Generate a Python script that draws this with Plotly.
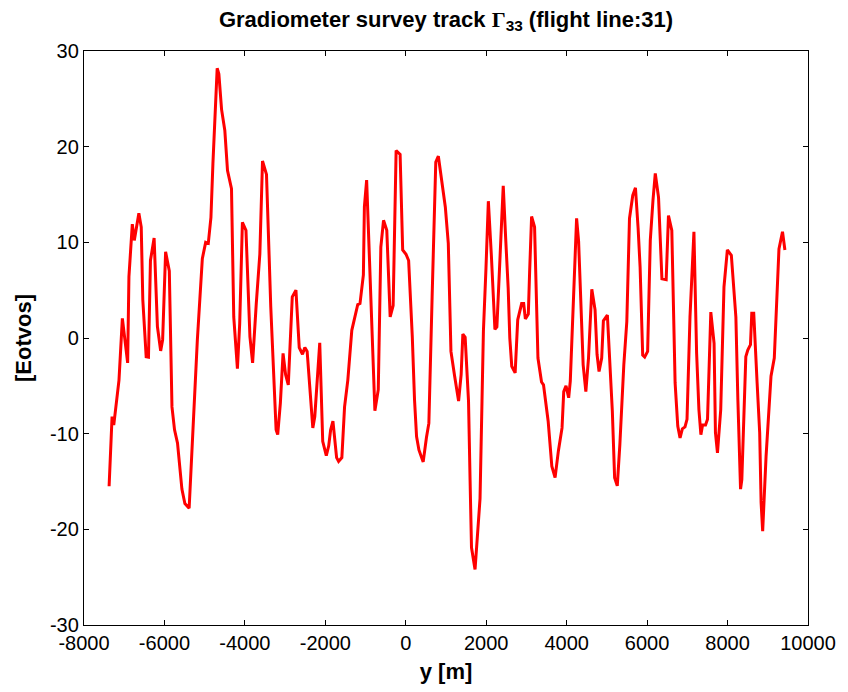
import plotly.graph_objects as go

# Flight-line position y [m]
y_pos = [
    -7376, -7302, -7260, -7130, -7046, -6982, -6915, -6883, -6799, -6750,
    -6636, -6577, -6538, -6454, -6397, -6348, -6257, -6175, -6094, -6045,
    -5971, -5879, -5813, -5749, -5675, -5566, -5492, -5386, -5305, -5182,
    -5058, -4975, -4910, -4844, -4795, -4689, -4647, -4580, -4499, -4432,
    -4333, -4277, -4186, -4129, -4062, -3973, -3875, -3808, -3717, -3628,
    -3562, -3463, -3357, -3283, -3224, -3184, -3118, -3051, -2987, -2921,
    -2822, -2731, -2649, -2568, -2509, -2452, -2371, -2311, -2262, -2139,
    -2065, -1976, -1917, -1868, -1811, -1720, -1670, -1589, -1522, -1441,
    -1342, -1251, -1194, -1138, -1054, -1029, -973, -881, -825, -768,
    -684, -620, -553, -472, -388, -314, -240, -141, -77, 6,
    71, 162, 218, 268, 327, 433, 514, 574, 655, 746,
    810, 901, 983, 1057, 1123, 1215, 1313, 1377, 1419, 1476,
    1560, 1599, 1634, 1722, 1782, 1846, 1895, 1930, 1994, 2053,
    2127, 2176, 2216, 2265, 2324, 2381, 2423, 2479, 2546, 2586,
    2635, 2719, 2783, 2881, 2931, 2973, 3047, 3079, 3128, 3202,
    3244, 3286, 3375, 3424, 3540, 3631, 3712, 3794, 3885, 3927,
    3984, 4050, 4090, 4149, 4198, 4247, 4297, 4361, 4410, 4477,
    4543, 4625, 4706, 4755, 4805, 4871, 4913, 5012, 5076, 5135,
    5192, 5258, 5323, 5421, 5495, 5562, 5643, 5710, 5776, 5826,
    5890, 5939, 6013, 6079, 6146, 6203, 6284, 6368, 6474, 6531,
    6614, 6696, 6762, 6819, 6876, 6942, 6992, 7066, 7164, 7231,
    7288, 7337, 7379, 7453, 7502, 7542, 7584, 7665, 7699, 7749,
    7830, 7911, 7995, 8094, 8151, 8207, 8257, 8323, 8355, 8405,
    8454, 8503, 8570, 8602, 8651, 8735, 8799, 8834, 8873, 8957,
    9021, 9080, 9162, 9228, 9278, 9366, 9426,
]

# Gamma_33 [Eotvos]
gamma33 = [
    -15.5, -8.2, -9.1, -4.4, 2.05, -0.2, -2.6, 6.4, 11.9, 10.2,
    13.05, 11.6, 4.0, -1.95, -2.0, 8.1, 10.45, 1.2, -1.35, -0.2,
    9.0, 7.0, -7.2, -9.6, -11.0, -15.8, -17.3, -17.8, -10.3, -0.2,
    8.3, 10.0, 9.9, 12.6, 18.2, 28.2, 27.6, 23.9, 21.7, 17.5,
    15.6, 2.2, -3.2, 1.5, 12.1, 11.25, 0.15, -2.6, 3.6, 8.8,
    18.5, 17.1, 3.3, -4.7, -9.6, -10.1, -6.8, -1.6, -3.85, -4.9,
    4.3, 5.0, -1.0, -1.7, -1.0, -1.4, -5.8, -9.4, -8.2, -0.5,
    -10.8, -12.3, -11.3, -9.6, -8.7, -12.5, -12.9, -12.5, -7.2, -4.4,
    0.8, 2.6, 3.5, 3.6, 6.6, 13.7, 16.5, 5.7, -1.25, -7.6,
    -5.4, 9.5, 12.3, 11.25, 2.2, 3.4, 19.6, 19.2, 9.2, 8.75,
    8.1, 0.15, -6.5, -10.3, -11.7, -12.95, -10.4, -8.9, 4.3, 18.4,
    19.0, 16.1, 13.7, 9.9, -1.4, -4.0, -6.6, -3.8, 0.4, 0.07,
    -6.6, -14.9, -21.9, -24.2, -20.7, -16.8, -6.6, 0.7, 7.3, 14.3,
    8.7, 3.8, 0.9, 1.15, 6.25, 12.8, 15.9, 10.8, 5.2, 0.0,
    -2.95, -3.65, 1.9, 3.6, 3.6, 2.0, 2.5, 6.9, 12.7, 11.6,
    4.5, -2.1, -4.6, -4.9, -8.7, -13.4, -14.6, -11.8, -9.4, -5.6,
    -5.0, -6.25, -4.5, 2.4, 8.3, 12.5, 10.1, 3.8, -2.8, -5.6,
    -2.1, 5.1, 2.95, -1.7, -3.5, -2.1, 1.8, 2.4, -3.5, -7.6,
    -14.6, -15.45, -11.1, -2.8, 1.7, 12.5, 14.9, 15.7, 11.5, 7.4,
    -1.8, -2.0, -1.4, 10.2, 14.4, 17.2, 14.7, 6.2, 6.1, 12.8,
    11.25, -4.7, -9.2, -10.45, -9.5, -9.3, -8.5, 2.2, 11.1, -1.6,
    -7.5, -10.1, -9.1, -9.1, -8.5, -3.0, 2.7, -0.55, -9.9, -12.0,
    -7.5, 5.35, 9.2, 8.65, 5.7, 2.2, -6.5, -15.8, -14.8, -8.9,
    -1.95, -1.25, -0.7, 2.6, 2.6, -4.7, -9.9, -17.2, -20.2, -12.4,
    -7.5, -4.0, -2.1, 3.6, 9.3, 11.1, 9.2,
]

x_ticks = [-8000, -6000, -4000, -2000, 0, 2000, 4000, 6000, 8000, 10000]
y_ticks = [-30, -20, -10, 0, 10, 20, 30]

FONT = "Arial, 'Liberation Sans', Helvetica, sans-serif"

fig = go.Figure()
fig.add_trace(go.Scatter(
    x=y_pos, y=gamma33, mode="lines",
    line=dict(color="#ff0000", width=3),
    showlegend=False, hoverinfo="skip",
))

axis_common = dict(
    showgrid=False, zeroline=False, showline=True, linecolor="black",
    linewidth=1.3, mirror="ticks", ticks="inside", ticklen=5,
    tickwidth=1, tickcolor="black",
    tickfont=dict(family=FONT, size=20, color="black"),
)

fig.update_layout(
    width=848, height=692,
    margin=dict(l=84, r=34, t=51, b=65),
    paper_bgcolor="white", plot_bgcolor="white",
    title=dict(
        text="<b>Gradiometer survey track <span style=\"font-family:'Liberation Serif', 'Times New Roman', serif\">Γ</span><sub>33</sub> (flight line:31)</b>",
        x=0.5, xref="paper", xanchor="center",
        y=1 - 19 / 692, yref="container", yanchor="middle",
        font=dict(family=FONT, size=22, color="black"),
    ),
    xaxis=dict(
        range=[-8000, 10000], tickvals=x_ticks,
        ticktext=[str(v) for v in x_ticks],
        title=dict(text="<b>y [m]</b>", font=dict(family=FONT, size=22, color="black"), standoff=10),
        **axis_common,
    ),
    yaxis=dict(
        range=[-30, 30], tickvals=y_ticks,
        ticktext=[str(v) for v in y_ticks],
        title=dict(text="<b>[Eotvos]</b>", font=dict(family=FONT, size=22, color="black"), standoff=12),
        **axis_common,
    ),
)

fig.write_html("out.html")
